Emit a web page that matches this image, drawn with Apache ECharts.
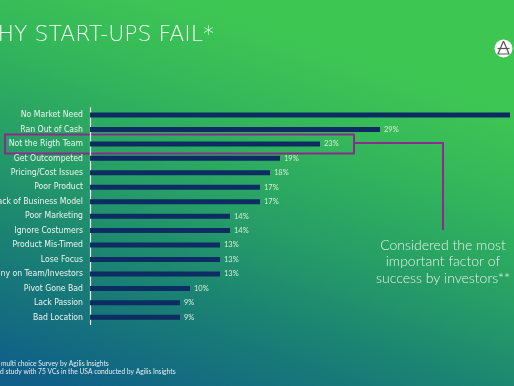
<!DOCTYPE html>
<html><head><meta charset="utf-8">
<script src="https://cdn.jsdelivr.net/npm/echarts@6/dist/echarts.min.js"></script>
<style>html,body{margin:0;padding:0;overflow:hidden}#c{width:514px;height:386px}</style>
</head><body><div id="c"></div>
<script>
const categories = ['No Market Need','Ran Out of Cash','Not the Rigth Team','Get Outcompeted','Pricing/Cost Issues','Poor Product','Lack of Business Model','Poor Marketing','Ignore Costumers','Product Mis-Timed','Lose Focus','Disharmony on Team/Investors','Pivot Gone Bad','Lack Passion','Bad Location'];
const values = [42,29,23,19,18,17,17,14,14,13,13,13,10,9,9];
const titleText = 'WHY START-UPS FAIL*';
const noteLines = ['Considered the most','important factor of','success by investors**'];
const footLines = ['multi choice Survey by Agilis Insights','d study with 75 VCs in the USA conducted by Agilis Insights'];
const highlighted = 'Not the Rigth Team';

const chart = echarts.init(document.getElementById('c'));
const option = {
  animation:false,
  backgroundColor: new echarts.graphic.LinearGradient(0.35,0,0.1,1,[
    {offset:0,color:'#3ec653'},{offset:0.2,color:'#34b85a'},{offset:0.45,color:'#279f66'},
    {offset:0.7,color:'#1a8074'},{offset:1,color:'#0f5f88'}]),
  grid:{left:90,top:107.8,height:216.7,width:420,containLabel:false,outerBoundsMode:'none'},
  xAxis:{type:'value',min:0,max:42,show:false},
  yAxis:{type:'category',data:categories,inverse:true,
    axisLine:{show:true,lineStyle:{color:'#f2f6f4',width:1.2}},
    axisTick:{show:false},
    axisLabel:{color:'#eef4f0',fontSize:8.6,fontFamily:'"DejaVu Sans Condensed","Liberation Sans Narrow",sans-serif',margin:7}},
  series:[{type:'bar',data:values,barWidth:5,itemStyle:{color:'#0d2d62'},
    label:{show:true,position:'right',distance:4,formatter:'{c}%',color:'#d6eed6',fontSize:7.5,fontFamily:'Lato, sans-serif'}}]
};
chart.setOption(option);

const yHi = chart.convertToPixel({yAxisIndex:0}, highlighted);
const xHi = chart.convertToPixel({xAxisIndex:0}, values[categories.indexOf(highlighted)]);
const boxRight = xHi + 34;
const lineX = 443;
const purple = '#8c2b8c';
chart.setOption({graphic:[
  {type:'text',x:214,y:35,style:{text:titleText,fill:'#f4faf4',font:'200 22px "DejaVu Sans ExtraLight", "DejaVu Sans", sans-serif',textAlign:'right',textVerticalAlign:'middle'}},
  {type:'circle',shape:{cx:503.5,cy:48.5,r:9},style:{fill:'#ffffff'}},
  {type:'polyline',shape:{points:[[503.5,41],[498,54],[509,54],[503.5,41]]},style:{stroke:'#555',lineWidth:1.2,fill:null}},
  {type:'line',shape:{x1:497.5,y1:48.5,x2:509.5,y2:48.5},style:{stroke:'#555',lineWidth:1.2}},
  {type:'rect',shape:{x:5,y:yHi-9.5,width:boxRight-5,height:19},style:{stroke:purple,lineWidth:2,fill:null}},
  {type:'polyline',shape:{points:[[boxRight,yHi-1],[lineX,yHi-1],[lineX,230]]},style:{stroke:purple,lineWidth:2,fill:null}},
  {type:'text',x:lineX,y:245,style:{text:noteLines[0],fill:'#e8efe9',font:'300 14px Lato, sans-serif',textAlign:'center',textVerticalAlign:'middle'}},
  {type:'text',x:lineX,y:261.5,style:{text:noteLines[1],fill:'#e8efe9',font:'300 14px Lato, sans-serif',textAlign:'center',textVerticalAlign:'middle'}},
  {type:'text',x:lineX,y:278,style:{text:noteLines[2],fill:'#e8efe9',font:'300 14px Lato, sans-serif',textAlign:'center',textVerticalAlign:'middle'}},
  {type:'text',x:1,y:364,style:{text:footLines[0],fill:'#e6eef0',font:'6.7px Lato, sans-serif',textAlign:'left',textVerticalAlign:'middle'}},
  {type:'text',x:0,y:371.5,style:{text:footLines[1],fill:'#e6eef0',font:'6.7px Lato, sans-serif',textAlign:'left',textVerticalAlign:'middle'}}
]});
</script></body></html>
